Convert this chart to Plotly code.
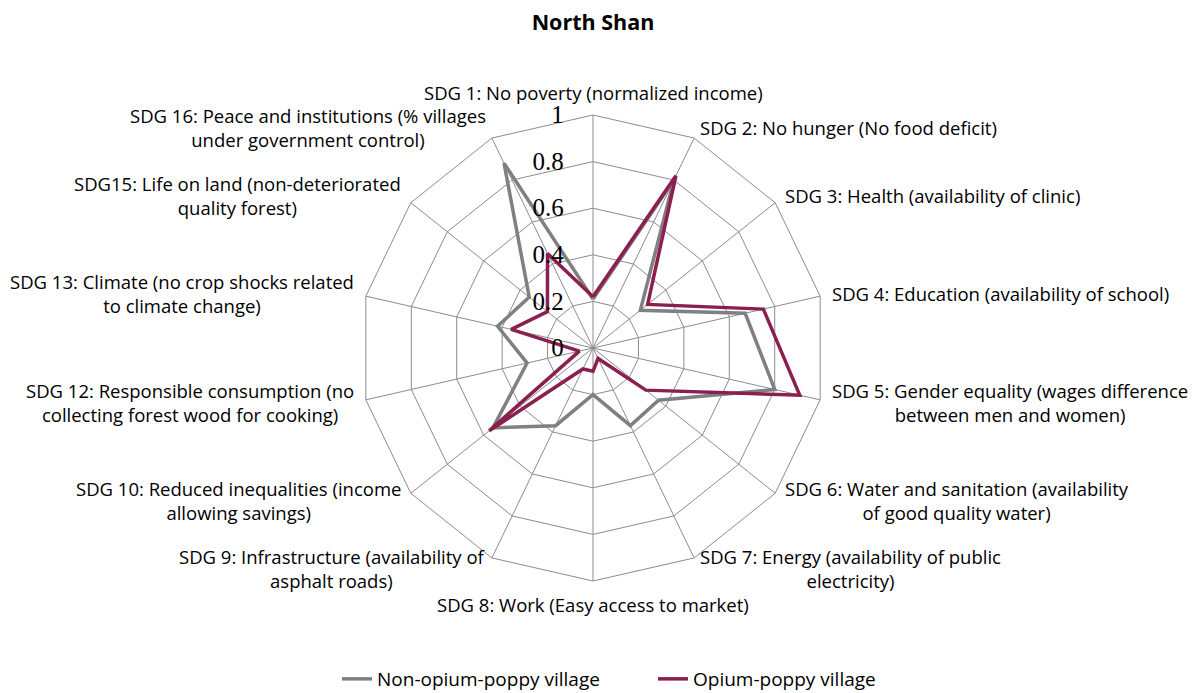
import math
import plotly.graph_objs as go

categories = [
    "SDG 1: No poverty (normalized income)",
    "SDG 2: No hunger (No food deficit)",
    "SDG 3: Health (availability of clinic)",
    "SDG 4: Education (availability of school)",
    "SDG 5: Gender equality (wages difference<br>between men and women)",
    "SDG 6: Water and sanitation (availability<br>of good quality water)",
    "SDG 7: Energy (availability of public<br>electricity)",
    "SDG 8: Work (Easy access to market)",
    "SDG 9: Infrastructure (availability of<br>asphalt roads)",
    "SDG 10: Reduced inequalities (income<br>allowing savings)",
    "SDG 12: Responsible consumption (no<br>collecting forest wood for cooking)",
    "SDG 13: Climate (no crop shocks related<br>to climate change)",
    "SDG15: Life on land (non-deteriorated<br>quality forest)",
    "SDG 16: Peace and institutions (% villages<br>under government control)",
]

non_opium = [0.21, 0.80, 0.26, 0.67, 0.80, 0.36, 0.37, 0.20, 0.37, 0.55, 0.29, 0.42, 0.35, 0.88]
opium = [0.22, 0.82, 0.30, 0.75, 0.91, 0.29, 0.05, 0.10, 0.10, 0.57, 0.06, 0.36, 0.25, 0.45]

radial_ticks = [0, 0.2, 0.4, 0.6, 0.8, 1]
radial_labels = ["0", "0.2", "0.4", "0.6", "0.8", "1"]

grid = "#8c8c8c"

fig = go.Figure()
fig.add_trace(go.Scatterpolar(
    r=non_opium + non_opium[:1],
    theta=categories + categories[:1],
    mode="lines",
    name="Non-opium-poppy village",
    line=dict(color="#808080", width=3.5),
))
fig.add_trace(go.Scatterpolar(
    r=opium + opium[:1],
    theta=categories + categories[:1],
    mode="lines",
    name="Opium-poppy village",
    line=dict(color="#8b1f4f", width=3.5),
))

# page has an 8px body margin, so work in figure pixels
W, H = 1194, 685
cx, cy, R = 585, 340, 233

# category labels around the web, centred lines like the original
n = len(categories)
for i, lab in enumerate(categories):
    t = 2 * math.pi * i / n
    s, c = math.sin(t), math.cos(t)
    vx, vy = cx + R * s, cy - R * c
    if abs(s) < 0.1:
        xa, lx, ly = "center", vx, vy - c * 23
    else:
        xa = "left" if s > 0 else "right"
        lx, ly = vx + 10 * s, vy - c * 12
    fig.add_annotation(
        x=lx / W, y=1 - ly / H, xref="paper", yref="paper",
        text=lab, showarrow=False, xanchor=xa, yanchor="middle", align="center",
        font=dict(family="Open Sans", size=18.5, color="black"),
    )

fig.update_layout(
    width=W, height=H,
    paper_bgcolor="white",
    plot_bgcolor="white",
    margin=dict(l=0, r=0, t=0, b=0, autoexpand=False),
    font=dict(family="Open Sans", size=18, color="black"),
    title=dict(text="<b>North Shan</b>", x=cx / W, xanchor="center",
               y=1 - 14 / H, yanchor="middle",
               font=dict(family="Open Sans", size=21.5, color="black")),
    polar=dict(
        domain=dict(x=[(cx - R) / W, (cx + R) / W],
                    y=[1 - (cy + R) / H, 1 - (cy - R) / H]),
        bgcolor="white",
        gridshape="linear",
        radialaxis=dict(
            range=[0, 1],
            tickvals=radial_ticks,
            ticktext=radial_labels,
            angle=90,
            tickangle=90,
            side="counterclockwise",
            showline=False,
            ticks="outside",
            ticklen=20,
            tickcolor="rgba(0,0,0,0)",
            gridcolor=grid,
            gridwidth=1,
            tickfont=dict(family="Liberation Serif", size=25, color="black"),
        ),
        angularaxis=dict(
            direction="clockwise",
            rotation=90,
            gridcolor=grid,
            gridwidth=1,
            showline=True,
            linecolor=grid,
            linewidth=1,
            ticks="",
            showticklabels=False,
        ),
    ),
    legend=dict(
        orientation="h",
        x=329 / W, xanchor="left",
        y=1 - 671 / H, yanchor="middle",
        font=dict(family="Open Sans", size=19, color="black"),
        entrywidth=271,
    ),
)

fig.write_html("out.html")
